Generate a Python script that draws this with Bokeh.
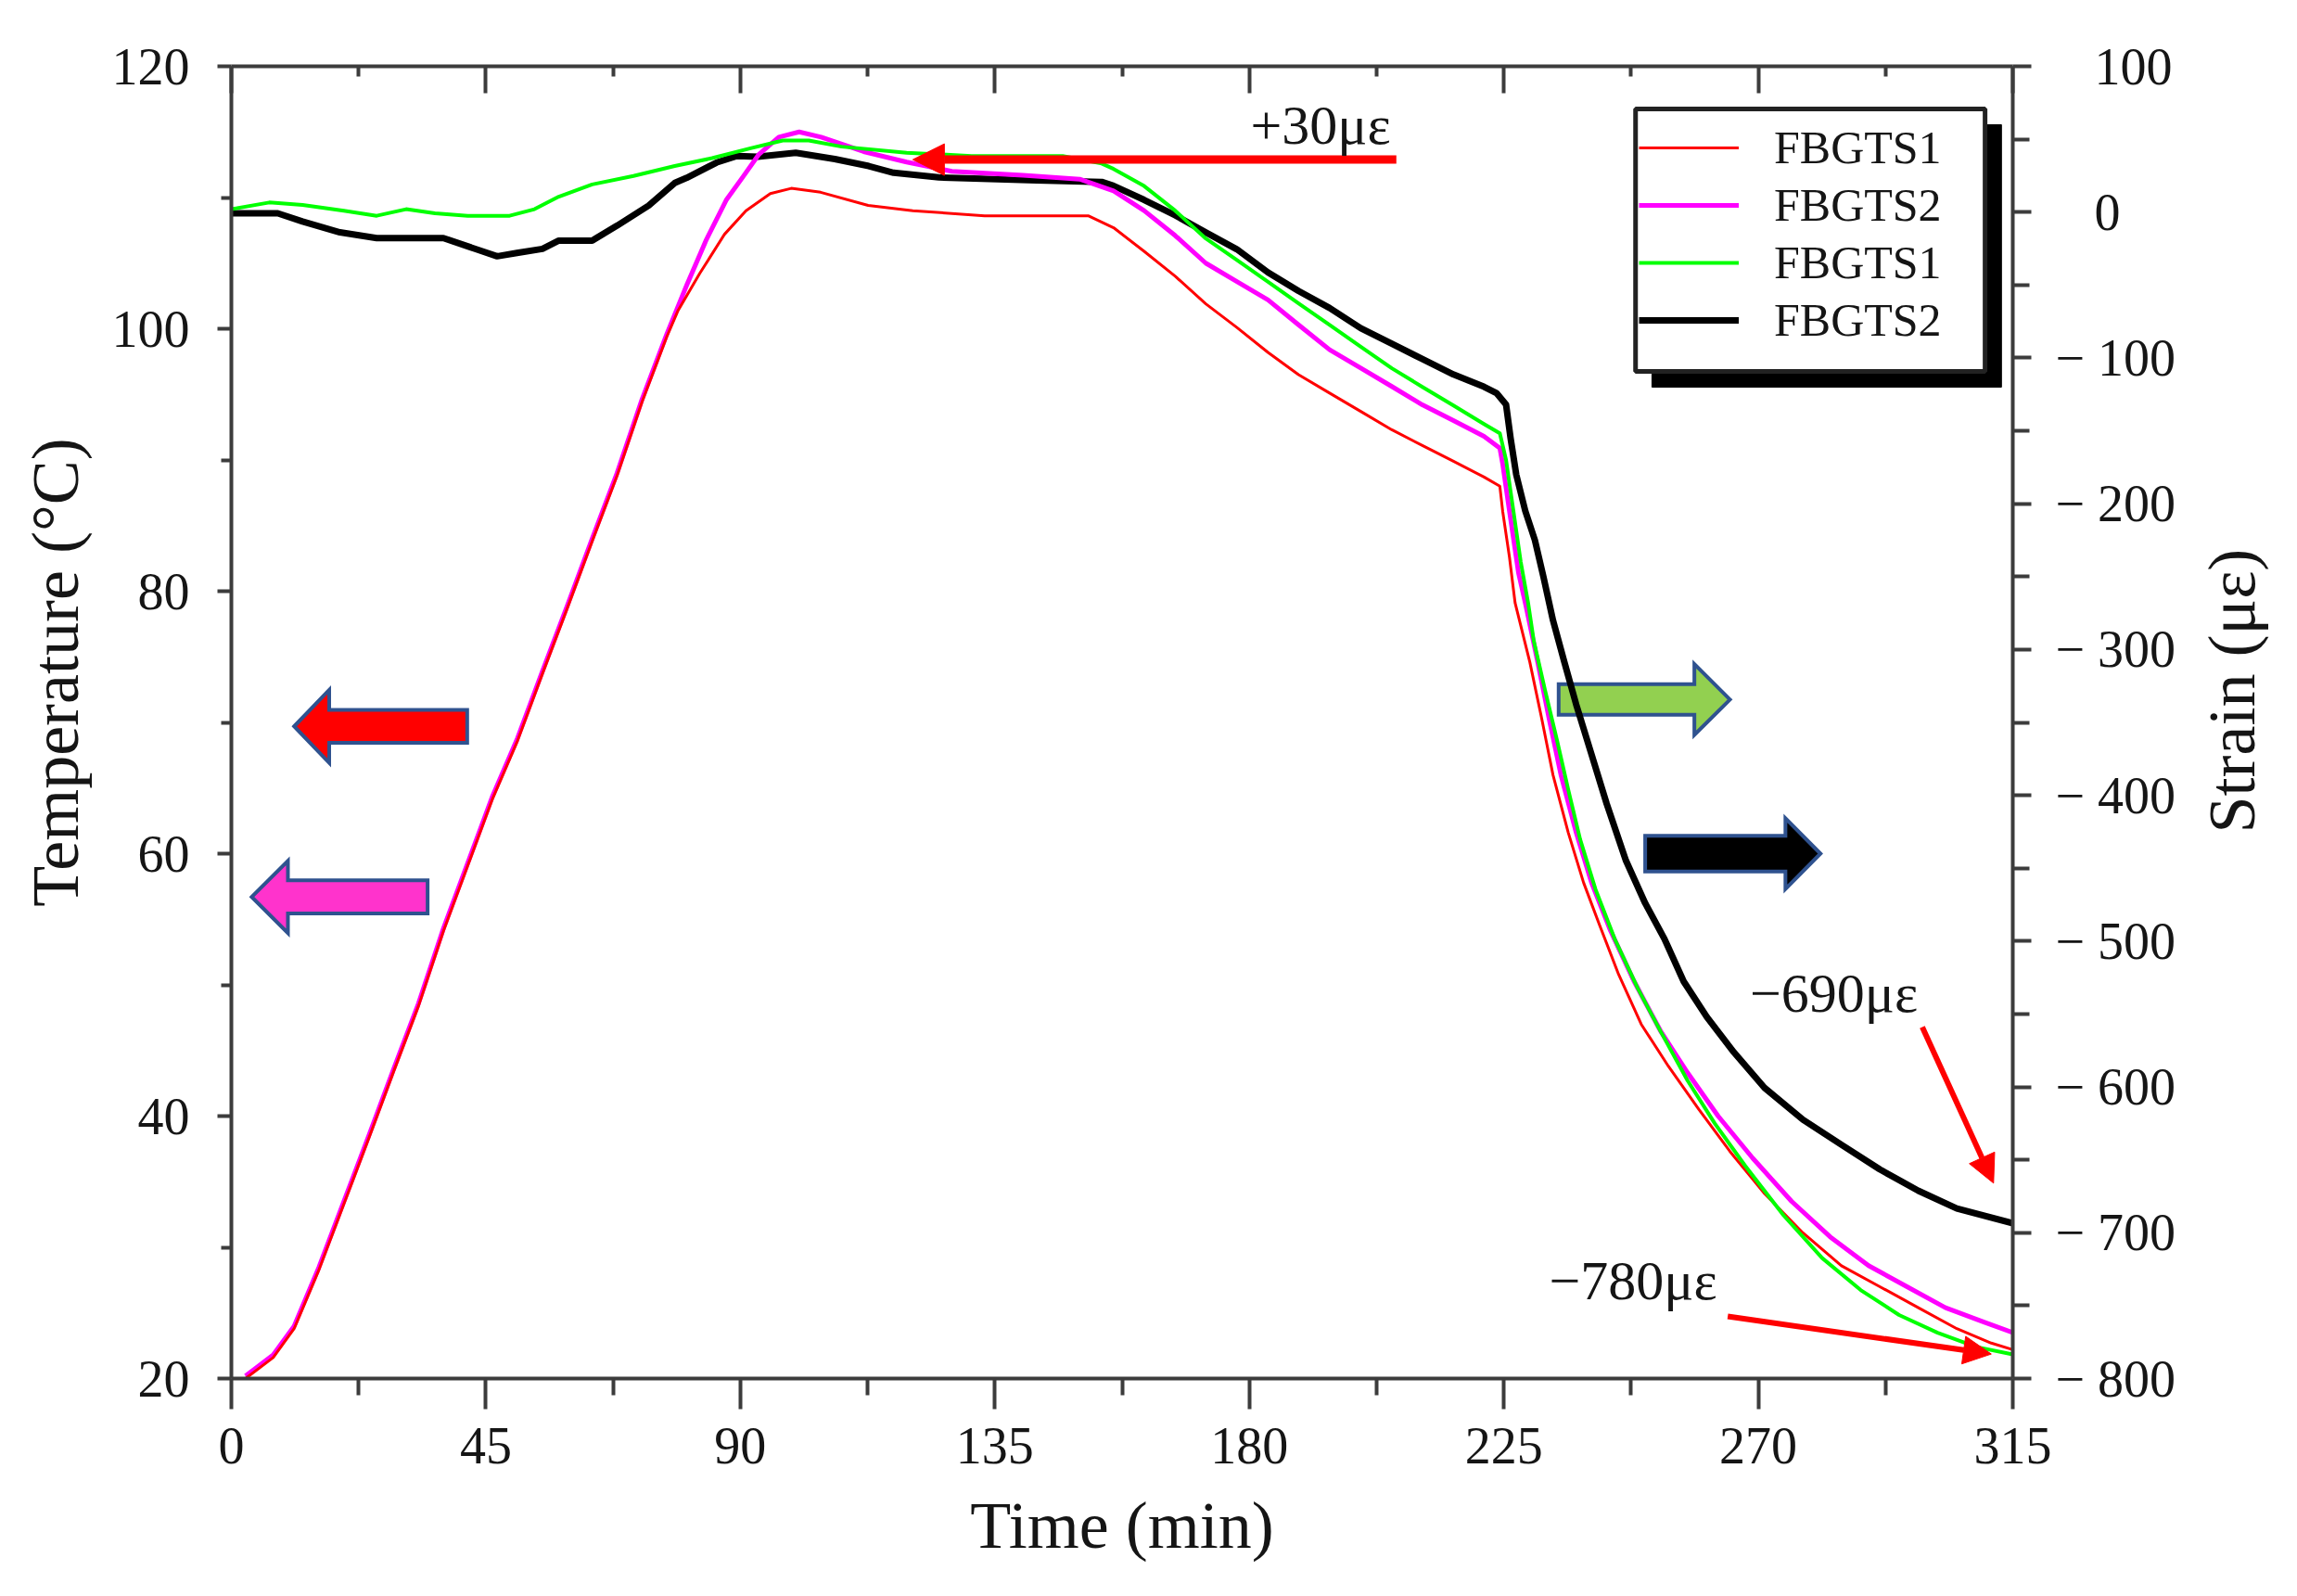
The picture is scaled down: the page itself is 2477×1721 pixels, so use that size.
import math
from bokeh.plotting import figure
from bokeh.layouts import row
from bokeh.models import (Range1d, LinearAxis, FixedTicker, Legend, LegendItem,
                          BoxAnnotation, Arrow, NormalHead, Label, CustomJSTickFormatter)
from bokeh.embed import file_html
from bokeh.resources import INLINE

# ---------------- data ----------------
X_TICKS = [0, 45, 90, 135, 180, 225, 270, 315]
X_MINOR = [22.5, 67.5, 112.5, 157.5, 202.5, 247.5, 292.5]
T_TICKS = [20, 40, 60, 80, 100, 120]
T_MINOR = [30, 50, 70, 90, 110]
S_TICKS = [100, 0, -100, -200, -300, -400, -500, -600, -700, -800]
S_MINOR = [50, -50, -150, -250, -350, -450, -550, -650, -750]

# Temperature, FBGTS1 (red, left axis)
red_t = [2.5, 7.4, 11.1, 15.5, 19.9, 24.3, 28.7, 33.1, 37.5, 41.9, 46.2, 50.6, 55.0, 59.4,
         63.8, 68.2, 72.6, 77.0, 79.0, 82.8, 87.2, 91.0, 95.3, 99.0, 104.2, 112.6, 120.5,
         133.2, 151.6, 156.0, 161.4, 166.9, 172.3, 177.8, 183.3, 188.7, 194.2, 199.7, 205.2,
         210.6, 216.1, 221.5, 224.3, 224.8, 226.0, 227.0, 229.6, 231.7, 233.7, 236.4, 239.1,
         241.9, 245.3, 249.3, 254.1, 259.5, 265.0, 271.1, 277.9, 284.7, 291.5, 298.3, 305.1,
         311.2, 315.0]
red_T = [20.0, 21.6, 23.8, 28.3, 33.3, 38.3, 43.4, 48.4, 54.1, 59.2, 64.2, 68.6, 73.7, 78.7,
         83.8, 88.8, 94.4, 99.4, 101.4, 104.2, 107.2, 109.0, 110.3, 110.7, 110.4, 109.4, 109.0,
         108.6, 108.6, 107.7, 105.9, 104.0, 101.9, 100.1, 98.2, 96.5, 95.1, 93.7, 92.3,
         91.1, 89.9, 88.7, 88.0, 86.1, 82.6, 79.1, 74.6, 70.3, 66.0, 61.6, 57.8,
         54.6, 50.8, 47.0, 43.8, 40.5, 37.3, 34.1, 31.1, 28.6, 27.0, 25.4, 23.8,
         22.7, 22.2]

# Temperature, FBGTS2 (magenta, left axis)
mag_t = [2.5, 7.4, 11.1, 15.5, 19.9, 24.3, 28.7, 33.1, 37.5, 41.9, 46.2, 50.6, 55.0, 59.4,
         63.8, 68.2, 72.6, 77.0, 80.5, 84.0, 87.5, 90.5, 93.3, 96.8, 100.4, 104.3, 111.8,
         119.4, 127.4, 140.0, 150.0, 156.0, 161.4, 166.9, 172.3, 177.8, 183.3, 188.7, 194.2,
         199.7, 205.2, 210.6, 216.1, 221.5, 224.3, 224.8, 226.0, 227.6, 228.9, 231.0, 233.0,
         235.1, 237.8, 240.5, 243.9, 248.0, 252.7, 257.5, 262.9, 269.0, 275.9, 282.7, 289.5,
         296.3, 303.1, 309.9, 315.0]
mag_T = [20.2, 21.8, 24.0, 28.5, 33.5, 38.5, 43.6, 48.6, 54.3, 59.4, 64.4, 68.8, 73.9, 78.9,
         84.0, 89.0, 94.6, 99.6, 103.3, 106.8, 109.8, 111.6, 113.3, 114.6, 115.0, 114.6, 113.5,
         112.7, 112.0, 111.7, 111.4, 110.5, 109.0, 107.1, 105.0, 103.6, 102.2, 100.3, 98.4,
         97.0, 95.6, 94.2, 93.0, 91.8, 90.9, 89.7, 86.1, 81.4, 78.9, 74.6, 70.3,
         66.0, 61.6, 57.8, 54.1, 50.3, 46.5, 43.3, 40.0, 36.8, 33.5, 30.8, 28.6,
         27.0, 25.4, 24.3, 23.5]

# Strain, FBGTS1 (green, right axis)
grn_t = [0.0, 6.7, 12.6, 19.9, 25.7, 30.9, 36.0, 41.8, 49.2, 53.6, 57.9, 63.8, 71.1, 78.4,
         85.0, 91.8, 97.5, 102.1, 107.9, 119.4, 130.9, 147.0, 153.9, 156.0, 161.4, 166.9,
         172.3, 177.8, 183.3, 188.7, 194.2, 199.7, 205.2, 210.6, 216.1, 221.5, 224.3, 225.4,
         226.7, 228.0, 229.3, 230.3, 232.3, 234.4, 236.4, 238.5, 241.2, 244.6, 248.7, 252.7,
         257.5, 262.3, 267.7, 274.5, 281.3, 288.1, 294.9, 301.7, 308.5, 315.0]
grn_S = [2.0, 6.6, 4.9, 0.9, -2.5, 2.0, -0.8, -2.5, -2.5, 2.0, 10.6, 19.0, 24.8, 31.6,
         37.0, 43.8, 49.1, 49.1, 44.9, 40.7, 38.5, 38.5, 33.3, 29.6, 17.9, 1.0,
         -18.1, -32.9, -47.8, -62.6, -77.4, -92.3, -107.1, -119.9, -132.6, -145.3, -151.7, -170.0,
         -205.0, -240.0, -268.0, -294.0, -328.0, -362.1, -396.2, -430.2, -464.3, -498.4, -532.5, -561.7,
         -595.7, -625.0, -654.2, -688.2, -717.4, -739.3, -756.4, -768.6, -778.3, -783.5]

# Strain, FBGTS2 (black, right axis)
blk_t = [0.0, 8.2, 12.6, 19.2, 25.7, 37.5, 41.8, 47.0, 50.5, 55.0, 57.9, 63.8, 68.2, 73.8,
         78.4, 80.5, 85.8, 89.4, 93.1, 99.8, 106.7, 112.7, 117.1, 125.1, 142.4, 153.9, 156.0,
         161.4, 166.9, 172.3, 177.8, 183.3, 188.7, 194.2, 199.7, 205.2, 210.6, 216.1, 221.5,
         223.7, 225.4, 226.2, 227.2, 228.8, 230.5, 232.0, 233.7, 235.7, 237.8, 240.5, 243.2,
         246.6, 250.0, 253.4, 256.8, 260.9, 265.7, 271.1, 277.9, 284.7, 291.5, 298.3, 305.1,
         315.0]
blk_S = [-0.8, -0.8, -6.5, -13.9, -17.8, -17.8, -23.5, -30.3, -28.0, -25.2, -19.5, -19.5, -9.3, 4.5,
         20.0, 23.5, 34.0, 38.5, 38.0, 40.7, 36.4, 31.6, 27.0, 23.8, 21.7, 20.7, 18.0,
         8.4, -2.2, -13.9, -25.5, -41.4, -54.1, -65.8, -79.6, -90.2, -100.8, -111.4, -119.8,
         -124.1, -132.0, -155.0, -180.0, -205.0, -225.0, -250.0, -280.0, -308.5, -337.7, -371.8, -405.9,
         -444.8, -474.0, -498.4, -527.6, -552.0, -576.3, -600.6, -622.5, -639.6, -656.6, -671.2, -683.4,
         -693.5]

SERIES_LABELS = ["FBGTS1", "FBGTS2", "FBGTS1", "FBGTS2"]

X_TITLE = "Time (min)"
T_TITLE = "Temperature (°C)"
S_TITLE = "Strain (με)"

# annotations
NOTE_TEXTS = ["+30με", "−690με", "−780με"]

# ---------------- styling constants ----------------
SERIF = "Liberation Serif"
AXIS_COL = "#3c3c3c"
TXT_COL = "#151515"

p = figure(width=2350, height=1715, output_backend="svg", toolbar_location=None,
           x_range=Range1d(0, 315), y_range=Range1d(20, 120),
           min_border_left=249, min_border_right=180, min_border_top=71, min_border_bottom=229)
p.extra_y_ranges = {"strain": Range1d(-800, 100)}
p.xgrid.visible = False
p.ygrid.visible = False
p.outline_line_color = None
p.background_fill_color = "white"
p.border_fill_color = "white"


def style_axis(ax, ticks, minor, tick_in, tick_out, mtick_in, mtick_out):
    ax.ticker = FixedTicker(ticks=ticks, minor_ticks=minor)
    ax.axis_line_color = AXIS_COL
    ax.axis_line_width = 4
    ax.major_tick_line_color = AXIS_COL
    ax.major_tick_line_width = 4
    ax.minor_tick_line_color = AXIS_COL
    ax.minor_tick_line_width = 4
    ax.major_tick_in = tick_in
    ax.major_tick_out = tick_out
    ax.minor_tick_in = mtick_in
    ax.minor_tick_out = mtick_out
    ax.major_label_text_font = SERIF
    ax.major_label_text_font_size = "56px"
    ax.major_label_text_color = TXT_COL
    ax.axis_label_text_font = SERIF
    ax.axis_label_text_font_size = "72px"
    ax.axis_label_text_font_style = "normal"
    ax.axis_label_text_color = TXT_COL


xb = p.xaxis[0]
style_axis(xb, X_TICKS, X_MINOR, 0, 33, 0, 18)
xb.axis_label = X_TITLE
xb.major_label_standoff = 20
xb.axis_label_standoff = 24

yl = p.yaxis[0]
style_axis(yl, T_TICKS, T_MINOR, 0, 15, 0, 11)
# leading no-break spaces move the (centred) title slightly upwards, as in the original
yl.axis_label = "\u00a0" * 6 + T_TITLE
yl.major_label_standoff = 30
yl.axis_label_standoff = 18

xt = LinearAxis()
style_axis(xt, X_TICKS, X_MINOR, 29, 0, 11, 0)
xt.formatter = CustomJSTickFormatter(code="return '';")
p.add_layout(xt, "above")

yr = LinearAxis(y_range_name="strain")
style_axis(yr, S_TICKS, S_MINOR, 0, 20, 0, 18)
yr.formatter = CustomJSTickFormatter(
    code="return tick < 0 ? '\u2212 ' + Math.abs(tick) : '\u00a0\u00a0\u00a0' + String(tick);")
yr.major_label_standoff = 26
p.add_layout(yr, "right")

# ---------------- block arrows ----------------
def block_arrow(x_tail, x_base, x_tip, yc, h_shaft, h_head):
    xs = [x_tip, x_base, x_base, x_tail, x_tail, x_base, x_base]
    ys = [yc, yc + h_head, yc + h_shaft, yc + h_shaft, yc - h_shaft, yc - h_shaft, yc - h_head]
    return xs, ys

TEMP_ARROWS = [  # tail, head base, tip, centre, shaft half, head half, fill
    (41.7, 17.3, 11.1, 69.7, 1.26, 2.78, "#FF0000"),
    (34.7, 10.0, 3.6, 56.7, 1.26, 2.75, "#FF33CC"),
]
STRAIN_ARROWS = [
    (234.7, 258.7, 265.0, -334.3, 10.5, 24.3, "#92D050"),
    (250.0, 274.8, 281.0, -440.0, 12.2, 24.3, "#000000"),
]
for a in TEMP_ARROWS:
    xs, ys = block_arrow(*a[:6])
    p.patch(xs, ys, fill_color=a[6], line_color="#2F528F", line_width=4, line_join="miter")
for a in STRAIN_ARROWS:
    xs, ys = block_arrow(*a[:6])
    p.patch(xs, ys, fill_color=a[6], line_color="#2F528F", line_width=4, line_join="miter",
            y_range_name="strain")

# ---------------- data lines ----------------
r_blk = p.line(blk_t, blk_S, line_color="#000000", line_width=7, y_range_name="strain", line_join="round")
r_mag = p.line(mag_t, mag_T, line_color="#FF00FF", line_width=5, line_join="round")
r_red = p.line(red_t, red_T, line_color="#FF0000", line_width=3, line_join="round")
r_grn = p.line(grn_t, grn_S, line_color="#00FF00", line_width=4, y_range_name="strain", line_join="round")

# ---------------- annotations ----------------
ARROWS = [  # x_start, y_start, x_end, y_end (strain axis), width, head size
    (206.0, 36.0, 120.5, 36.0, 9, 34),
    (299.0, -559.0, 311.6, -666.0, 6, 30),
    (264.6, -757.4, 311.2, -783.2, 6, 30),
]
for xs_, ys_, xe_, ye_, w, hs in ARROWS:
    p.add_layout(Arrow(x_start=xs_, y_start=ys_, x_end=xe_, y_end=ye_, line_color="#FF0000",
                       line_width=w, y_range_name="strain",
                       end=NormalHead(size=hs, fill_color="#FF0000", line_color="#FF0000", line_width=1)))

NOTE_POS = [(205.0, 59.7, "right"), (268.5, -536.0, "left"), (233.0, -733.0, "left")]
for txt, (nx, ny, al) in zip(NOTE_TEXTS, NOTE_POS):
    p.add_layout(Label(x=nx, y=ny, text=txt, y_range_name="strain", text_font=SERIF,
                       text_font_size="60px", text_align=al, text_baseline="middle",
                       text_color=TXT_COL))

# ---------------- legend with drop shadow ----------------
p.add_layout(BoxAnnotation(left=251.2, right=313.0, top=115.55, bottom=95.55,
                           fill_color="black", fill_alpha=1.0, line_color="black", line_alpha=1.0,
                           line_width=1))
p.add_layout(BoxAnnotation(left=248.3, right=310.1, top=116.75, bottom=96.75,
                           fill_color="white", fill_alpha=1.0, line_color="#222222", line_alpha=1.0,
                           line_width=5))
items = [LegendItem(label=SERIES_LABELS[0], renderers=[r_red]),
         LegendItem(label=SERIES_LABELS[1], renderers=[r_mag]),
         LegendItem(label=SERIES_LABELS[2], renderers=[r_grn]),
         LegendItem(label=SERIES_LABELS[3], renderers=[r_blk])]
legend = Legend(items=items, location=(1518, 1111), orientation="vertical",
                label_text_font=SERIF, label_text_font_size="50px", label_text_color=TXT_COL,
                glyph_width=108, glyph_height=60, label_height=60, label_standoff=38,
                spacing=2, padding=0, margin=0, border_line_color=None,
                background_fill_alpha=0.0)
p.add_layout(legend)

# ---------------- right-hand title (narrow strip, text reads bottom-to-top) ----------------
q = figure(width=124, height=1715, output_backend="svg", toolbar_location=None,
           x_range=Range1d(0, 1), y_range=Range1d(0, 1), x_axis_location=None, y_axis_location=None,
           min_border_left=0, min_border_right=0, min_border_top=0, min_border_bottom=0)
q.xgrid.visible = False
q.ygrid.visible = False
q.outline_line_color = None
q.background_fill_color = "white"
q.border_fill_color = "white"
q.add_layout(Label(x=0.452, y=0.524, text=S_TITLE, angle=math.pi / 2, text_font=SERIF,
                   text_font_size="72px", text_align="center", text_baseline="middle",
                   text_color=TXT_COL))

layout = row(p, q, spacing=0)
open("out.html", "w").write(file_html(layout, INLINE))
